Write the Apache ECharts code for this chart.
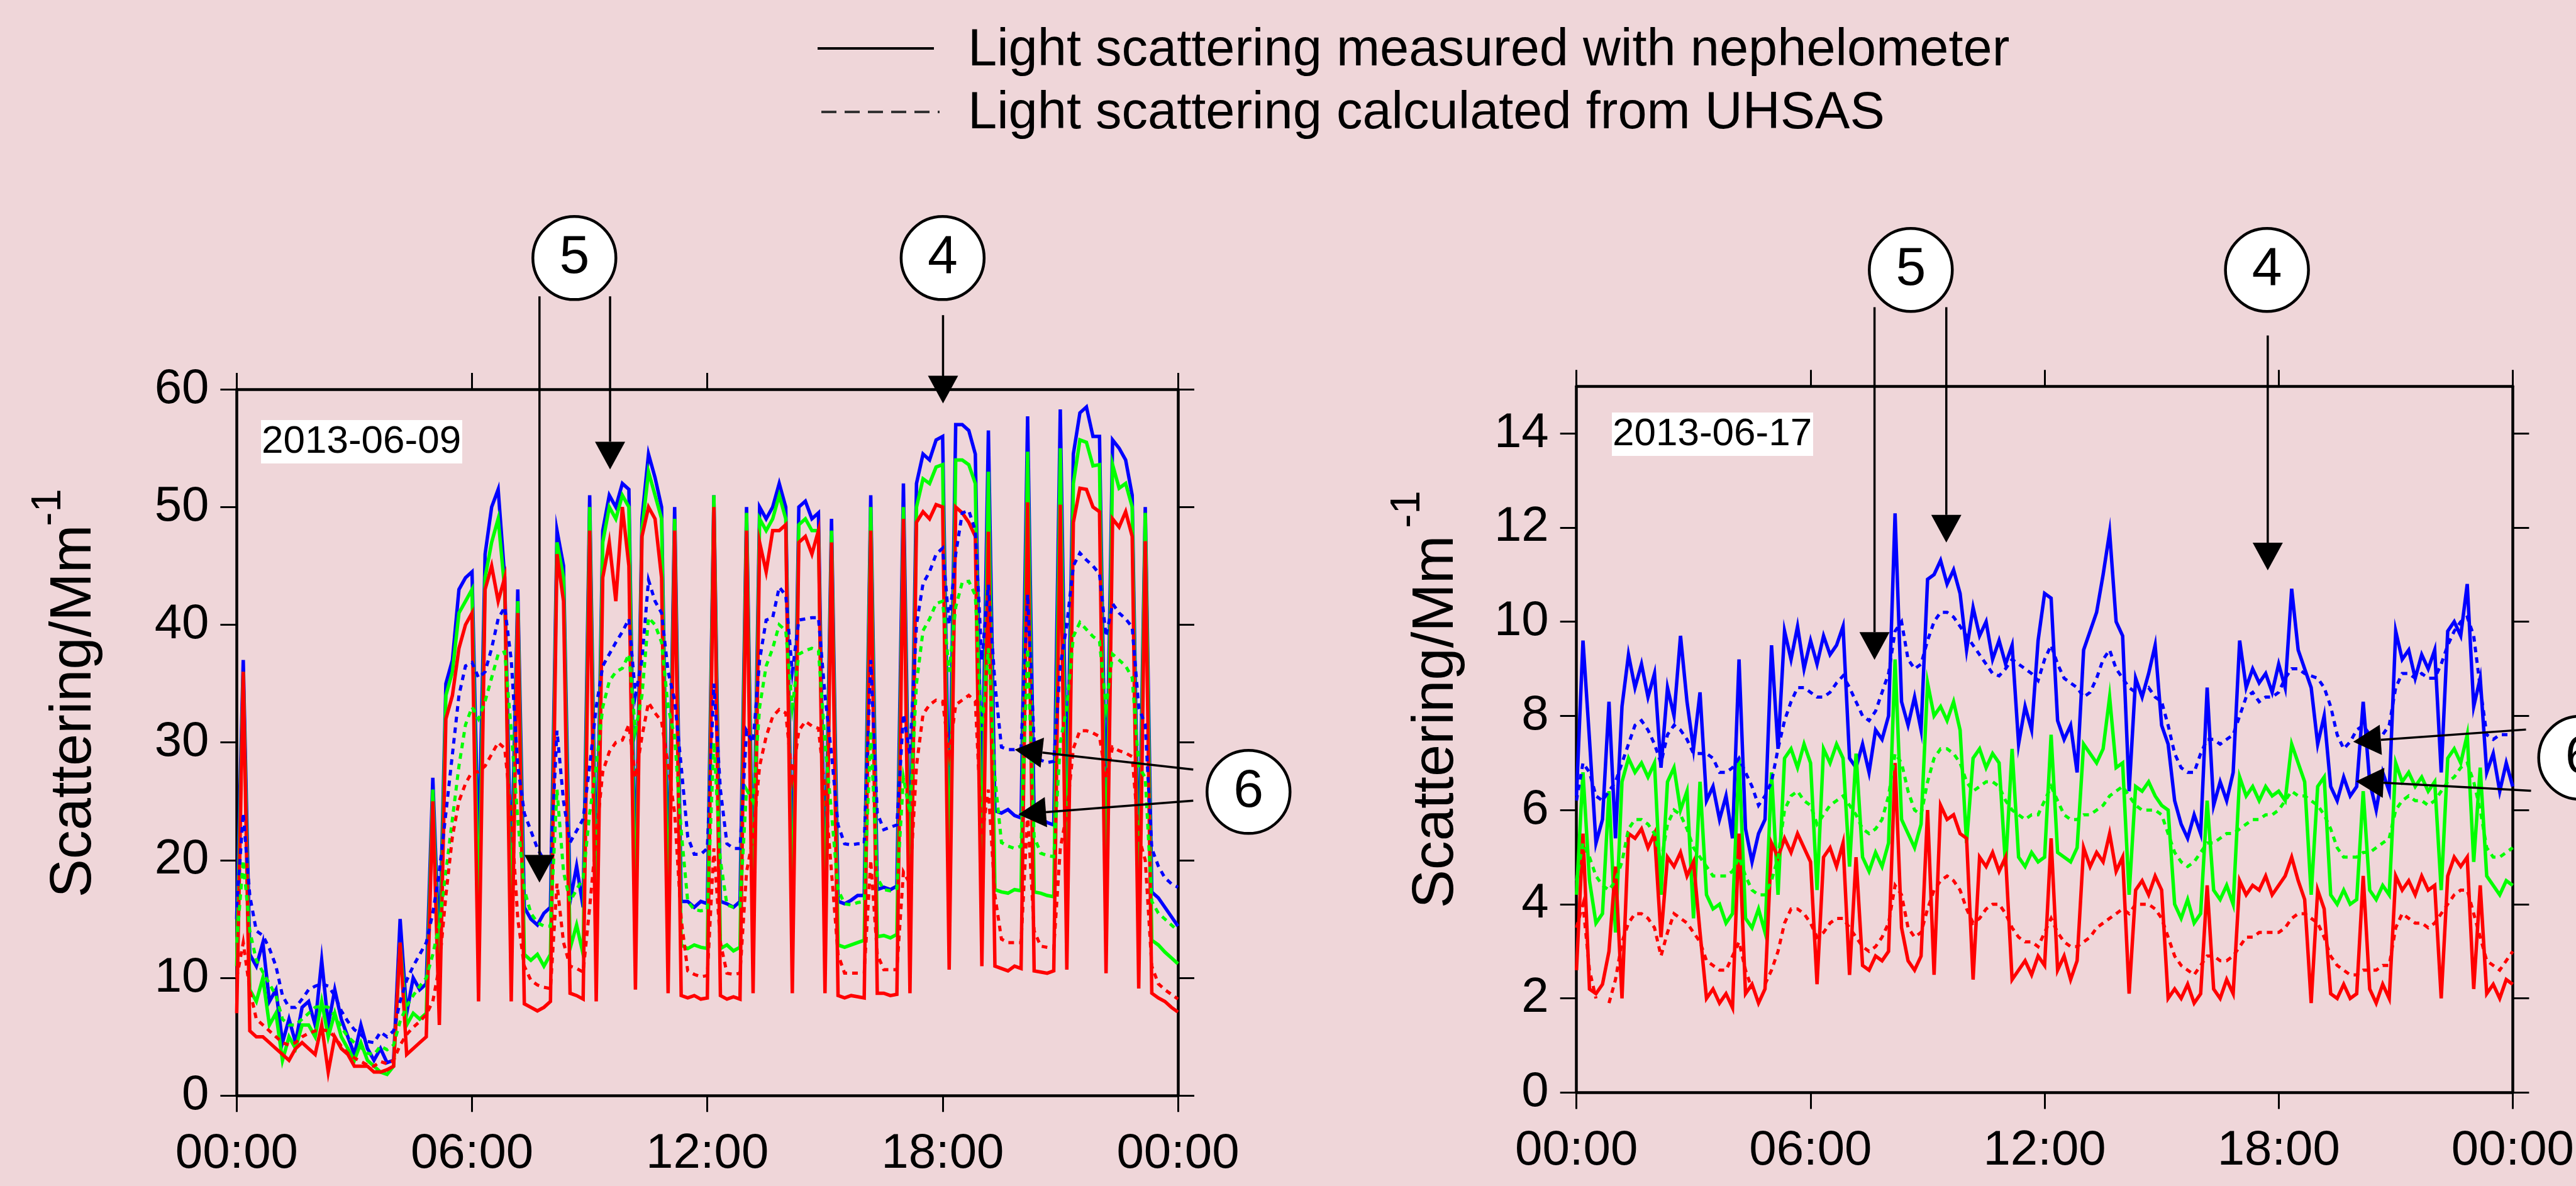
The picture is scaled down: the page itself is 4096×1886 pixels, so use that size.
<!DOCTYPE html>
<html><head><meta charset="utf-8">
<script src="https://cdn.jsdelivr.net/npm/echarts@6/dist/echarts.min.js"></script>
<style>html,body{margin:0;padding:0;background:#efd6d9;}#c{width:4096px;height:1886px;}</style>
</head><body><div id="c"></div>
<script>
// time grid (hours, 10-minute steps)
const hours = []; for (let i = 0; i <= 144; i++) hours.push(i / 6);
const xTickLabels = ['00:00','06:00','12:00','18:00','00:00'];
const yTicksLeft = [0,10,20,30,40,50,60];
const yTicksRight = [0,2,4,6,8,10,12,14];
const dateLeft = '2013-06-09', dateRight = '2013-06-17';
const legendTexts = ['Light scattering measured with nephelometer','Light scattering calculated from UHSAS'];
const yTitle = 'Scattering/Mm', yTitleSup = '-1';

// ---- 2013-06-09 : nephelometer (solid) ----
const L_blue = [15,37,12,11,13,8, 9,4.5,6.5,4.5,7.5,8, 6,11.5,6,9,6.5,5, 3.5,6,4,3,4,2.8, 3,15,7,10,9,9.5,
 27,12,35,37,43,44, 44.5,20,46,50,51.5,44, 18,43,16,15,14.5,15.5, 16,48,45,16.5,19.5,16, 51,17,48,51,50,52,
 51.5,17,49,54.5,52.5,50, 17,50,16.5,16.5,16,16.5, 16.3,51,16.5,16.3,16,16.5, 50,17,50,49,50,52, 50,17,50,50.5,49,49.5,
 17,49,16.5,16.3,16.6,17, 17,51,17.5,17.7,17.5,17.8, 52,18,52,54.5,54,55.7, 56,22,57,57,56.5,54.5, 24,56.5,24.2,24,24.3,23.8,
 23.6,57.7,23.4,23.5,23.2,23, 58.3,24,54.5,58,58.5,56, 56,22,55.7,55,54,51, 18,50,17.3,16.8,16,15.2, 14.4];
const L_green = [11,36,9,8,10,6, 7,3,5,4,6,6, 5,8,5,7,5,4, 3,4.5,3,2.5,2,1.8, 2.5,13,6,7,6.5,7,
 26,9,34,36,41,42, 43,14,44,47,49,43, 13,42,12,11.5,12,11, 12,47,44,12.5,14.5,12, 50,13,47,50,49,51,
 50,13,48,53,51,49, 13,49,12.8,12.5,12.8,12.6, 12.5,51,12.5,12.8,12.3,12.6, 49.5,13,49,48,49,51, 49,13,48.5,49,48,48,
 13,48,12.8,12.6,12.8,13, 13.2,50,13.5,13.6,13.4,13.7, 50,13.5,50,52.4,52,53.4, 53.6,16,54,54,53.6,52, 17,53,17.5,17.3,17.2,17.5,
 17.4,54.7,17.3,17.2,17,16.9, 55,17,52,55.7,55.5,53.5, 53.6,16,53.6,51.6,52,50, 13.5,49.5,13.2,12.8,12.2,11.7, 11.2];
const L_red = [7,36,5.5,5,5,4.5, 4,3.5,3,4,4.5,4, 3.5,6,2,5,4,3.5, 2.5,2.5,2.5,2,2,2.2, 2.5,13,3.5,4,4.5,5,
 25,6,32,34,38,40, 41,8,43,45,42,44, 8,41,7.8,7.5,7.2,7.5, 8,46,42,8.7,8.5,8.2, 48,8,44,47,42,50,
 45,9,47.5,50,49,44, 8.7,48,8.5,8.3,8.5,8.2, 8.3,50,8.5,8.2,8.4,8.2, 48,8.7,47,44.5,48,48, 48.5,8.7,47,47.5,46,48,
 8.7,47,8.5,8.3,8.5,8.4, 8.3,48,8.7,8.7,8.5,8.6, 49,8.7,48.7,49.6,49,50.2, 50,10.7,50,49.5,48.7,47.5, 11,47.9,11,10.8,10.6,11,
 10.8,50.4,10.6,10.5,10.4,10.6, 50.2,10.7,48.7,51.6,51.5,50, 49.6,10.4,49,48.3,49.6,47.5, 9.1,47.1,8.7,8.3,8,7.5, 7.1];
// ---- 2013-06-09 : UHSAS (dashed) ----
const L_blueU = [16,24,17,14,13.6,12.5, 11,8.5,7.5,7.5,8.2,9, 9.3,9.5,9.3,8.5,7.2,6.3, 5.6,5.2,4.6,4.5,5.4,5, 5.5,8,9.8,11,12,13,
 15.5,19,24,29,34,36.5, 36.8,35.5,36,38,40.5,41.5, 37,28,24,22.5,21,20, 19.5,31,25,21.5,22.5,23.5, 28,33,36.5,37.5,38.5,39.4,
 40.5,34,37,43.8,42,41, 36,33.6,28,22,20.5,20.5, 21,35,26,21.4,21,21, 31,30,37,40.4,40.6,43.2, 42.5,36,40.4,40.5,40.6,40.6,
 34,29,23,21.4,21.3,21.4, 21.4,37,24,22.6,22.8,23, 32.4,29,40,43.5,44.5,46, 46.5,40,46,49.5,49.7,48, 37,43.4,35,29.6,29.4,29.4,
 29.5,42.6,30,28.5,28.3,28.4, 36.5,40,45,46.1,45.5,45, 44.3,39,41.8,41,40.5,39.8, 33,31.5,21,19.5,18.5,18, 17.7];
const L_greenU = [13,20,14,11.5,10.5,9.5, 8.5,6.5,6,6,6.5,7, 7.5,7.6,7.5,6.8,5.8,5, 4.5,4.1,3.6,3.5,4.2,3.9, 4.3,6.3,7.6,8.5,9.3,10,
 12,14.5,19,23.5,28,31.5, 33,32,33.5,35.5,37.5,37.7, 31,23.5,17.5,15.5,14.7,14.4, 14.4,26,19,16.5,17.5,18.5, 24,28,33,35.2,36,36.3,
 37.5,31,34,40.6,40,38.5, 33,30.5,22.5,16.5,15.8,15.7, 15.8,30,20,16.2,16,16.1, 26,25,33,36.5,38,40, 39.5,33,37.5,37.8,38,37.8,
 30,24,17.5,16.3,16.2,16.4, 16.5,31,18.5,17.5,17.4,17.6, 27,24,35,39.5,40.5,41.8, 42,36,41.5,43.6,43.7,42.5, 31,38,27,21.5,21.2,21,
 21.2,38,22,20.6,20.4,20.3, 30,33,39,40.2,39.6,39, 38.6,33,37.5,37,36.5,35.5, 28,27,16.5,15.5,15,14.5, 14];
const L_redU = [10,13,9,6.5,6,5.5, 5,4.5,4.3,4.5,5,5.3, 5.5,5.6,5.5,5,4.2,3.6, 3.2,2.9,2.6,2.5,2.9,2.7, 3,4.3,5.2,5.8,6.3,6.9,
 8,11,17,22,25,26.5, 27.5,27.5,28,29,30,29.5, 24,15,11,9.8,9.4,9.2, 9.1,18,13,11,10.8,10.5, 16,22,27.5,29.2,30,30.2,
 31.5,27,30.5,33.4,32.5,31.8, 28,24,15,10.6,10.3,10.1, 10.2,21,13,10.4,10.3,10.4, 19,22,28,30.5,32.2,32.8, 32.5,27,31,31.8,31.4,31.2,
 26,19,12,10.4,10.4,10.4, 10.4,20,12,10.7,10.7,10.7, 19,18,28,32.4,33.2,33.6, 33.5,29,33.2,33.6,34,33.5, 22,26,17,13.3,13,13,
 13,24,14,12.7,12.6,12.5, 21,24,29.5,31,31,30.8, 30.5,27,29.6,29.3,29.1,28.8, 22,20,11,9.5,9,8.6, 8.2];

// ---- 2013-06-17 : nephelometer (solid) ----
const R_blue = [6.3,9.6,7.5,5.3,5.8,8.3, 5.4,8.2,9.3,8.6,9.1,8.4, 8.9,6.9,8.6,8.0,9.7,8.3, 7.3,8.5,6.2,6.5,5.8,6.3, 5.4,9.2,5.6,4.9,5.5,5.8,
 9.5,7.3,9.8,9.2,9.9,9.0, 9.6,9.1,9.7,9.3,9.5,9.9, 7.1,6.9,7.4,6.8,7.7,7.5, 8.0,12.3,8.3,7.8,8.4,7.7, 10.9,11.0,11.3,10.8,11.1,10.6,
 9.4,10.3,9.7,10.0,9.2,9.6, 9.1,9.5,7.4,8.2,7.7,9.6, 10.6,10.5,7.9,7.5,7.8,6.8, 9.4,9.8,10.2,11.0,11.9,10.0, 9.7,6.4,8.8,8.4,8.9,9.5,
 7.8,7.4,6.2,5.7,5.4,5.9, 5.5,8.6,6.1,6.6,6.2,6.8, 9.6,8.6,9.0,8.7,8.9,8.5, 9.1,8.6,10.7,9.4,9.0,8.6, 7.4,8.0,6.5,6.2,6.7,6.3,
 6.5,8.3,6.6,6.0,6.8,6.4, 9.8,9.2,9.4,8.8,9.3,9.0, 9.4,6.8,9.8,10.0,9.7,10.8, 8.2,8.8,6.8,7.2,6.4,7.0, 6.5];
const R_green = [4.2,6.8,4.5,3.6,3.8,6.4, 3.4,6.6,7.1,6.8,7.0,6.7, 7.0,4.2,6.6,6.9,6.0,6.4, 3.7,6.6,4.2,3.9,4.0,3.6, 3.8,7.1,3.7,3.5,3.9,3.4,
 6.8,4.2,7.1,7.3,6.9,7.4, 7.0,4.3,7.3,7.0,7.4,7.1, 4.8,7.2,5.0,4.7,5.1,4.8, 5.3,9.2,5.8,5.5,5.2,5.7, 8.7,8.0,8.2,7.9,8.3,7.7,
 5.3,7.1,7.3,6.9,7.2,7.0, 4.8,7.3,5.0,4.8,5.1,4.9, 5.0,7.6,5.1,5.0,4.9,5.2, 7.4,7.2,7.0,7.3,8.4,6.9, 7.0,4.2,6.5,6.4,6.6,6.3,
 6.1,6.0,4.0,3.7,4.1,3.6, 3.8,6.2,4.3,4.1,4.4,4.0, 6.7,6.3,6.5,6.2,6.5,6.3, 6.4,6.2,7.4,7.0,6.6,4.2, 6.5,6.7,4.2,4.0,4.3,4.0,
 4.1,6.4,4.3,4.1,4.4,4.2, 7.0,6.6,6.8,6.5,6.7,6.4, 6.6,4.3,7.1,7.3,7.0,7.6, 4.9,6.9,4.6,4.4,4.2,4.5, 4.4];
const R_red = [2.6,5.5,2.2,2.1,2.3,3.0, 4.8,2.0,5.5,5.4,5.6,5.2, 5.5,3.3,5.0,4.8,5.1,4.6, 4.9,3.4,2.0,2.2,1.9,2.1, 1.8,5.5,2.1,2.3,1.9,2.2,
 5.3,5.0,5.4,5.1,5.5,5.2, 4.9,2.3,5.0,5.2,4.8,5.3, 2.5,5.0,2.7,2.6,2.9,2.8, 3.0,7.0,3.5,2.8,2.6,2.9, 6.0,2.5,6.1,5.8,5.9,5.5,
 5.4,2.4,5.0,4.8,5.1,4.7, 5.0,2.4,2.6,2.8,2.5,2.9, 2.7,5.4,2.6,2.9,2.4,2.8, 5.2,4.8,5.1,4.9,5.5,4.7, 5.0,2.1,4.3,4.5,4.2,4.6,
 4.3,2.0,2.2,2.0,2.3,1.9, 2.1,4.4,2.2,2.0,2.4,2.1, 4.5,4.2,4.4,4.3,4.6,4.2, 4.4,4.6,5.0,4.5,4.1,1.9, 4.3,3.9,2.1,2.0,2.3,2.0,
 2.1,4.6,2.2,1.9,2.3,2.0, 4.6,4.3,4.5,4.2,4.6,4.3, 4.4,2.0,4.6,5.0,4.8,5.0, 2.2,4.4,2.1,2.3,2.0,2.4, 2.3];
// ---- 2013-06-17 : UHSAS (dashed) ----
const R_blueU = [6.2,7.0,6.8,6.3,6.2,6.4, 6.6,7.0,7.4,7.8,7.9,7.7, 7.4,7.0,7.6,7.8,7.7,7.5, 7.2,7.2,7.2,7.1,6.8,6.8, 6.9,7.1,6.8,6.5,6.1,6.3,
 6.6,7.3,7.9,8.3,8.6,8.6, 8.5,8.4,8.4,8.5,8.7,8.85, 8.6,8.3,8.0,7.9,8.1,8.5, 8.9,9.8,10.0,9.2,9.0,9.1, 9.6,10.0,10.2,10.2,10.1,9.9,
 9.7,9.5,9.3,9.1,8.9,8.85, 9.0,9.2,9.1,9.0,8.9,8.75, 9.2,9.5,9.1,8.8,8.7,8.6, 8.4,8.5,8.8,9.2,9.4,9.0, 8.8,8.6,8.5,8.5,8.6,8.4,
 8.3,7.8,7.2,6.9,6.8,6.8, 7.2,7.5,7.5,7.4,7.5,7.6, 8.0,8.4,8.5,8.3,8.4,8.4, 8.5,8.8,9.0,9.0,8.9,8.85, 8.8,8.6,8.2,7.6,7.3,7.45,
 7.7,7.8,7.6,7.6,7.6,7.8, 8.6,8.9,8.9,8.8,8.9,8.8, 8.8,9.1,9.5,9.8,10.0,10.1, 9.7,8.6,7.6,7.5,7.6,7.6, 7.6];
const R_greenU = [4.5,5.3,5.0,4.6,4.4,4.3, 4.5,4.9,5.6,5.8,5.8,5.7, 5.5,4.9,5.7,6.0,5.9,5.6, 5.2,5.0,4.8,4.6,4.6,4.6, 4.7,5.0,4.6,4.3,4.2,4.2,
 4.5,5.0,6.0,6.3,6.4,6.2, 6.1,5.7,5.9,6.1,6.2,6.3, 6.1,5.9,5.6,5.5,5.6,5.8, 6.3,7.2,7.0,6.4,6.0,5.9, 6.6,7.1,7.3,7.3,7.2,7.0,
 6.6,6.4,6.5,6.6,6.6,6.5, 6.2,6.0,5.9,5.8,5.9,5.9, 6.2,6.5,6.2,5.9,5.8,5.8, 5.9,5.9,6.0,6.1,6.3,6.4, 6.5,6.3,6.1,6.0,6.0,6.0,
 5.9,5.5,5.1,4.9,4.8,4.9, 5.1,5.3,5.3,5.4,5.5,5.5, 5.6,5.7,5.8,5.8,5.9,5.9, 6.0,6.2,6.4,6.3,6.3,6.2, 6.1,5.9,5.6,5.2,5.0,5.0,
 5.0,5.1,5.1,5.2,5.3,5.4, 6.0,6.2,6.3,6.2,6.2,6.1, 6.2,6.4,6.6,6.7,6.9,7.0, 6.6,6.0,5.2,5.0,5.0,5.1, 5.2];
const R_redU = [3.5,4.0,2.6,2.0,null,1.9, 2.4,3.2,3.6,3.8,3.8,3.7, 3.5,2.9,3.4,3.8,3.7,3.6, 3.4,3.2,2.8,2.7,2.6,2.6, 2.9,3.2,2.6,2.2,null,2.3,
 2.6,3.0,3.6,3.9,3.9,3.8, 3.6,3.3,3.4,3.6,3.7,3.7, 3.5,3.3,3.1,3.0,3.1,3.3, 3.6,4.4,4.2,3.5,3.3,3.4, 3.9,4.3,4.5,4.6,4.5,4.3,
 3.9,3.6,3.7,3.9,4.0,4.0, 3.8,3.5,3.3,3.2,3.2,3.1, 3.4,3.7,3.4,3.2,3.1,3.1, 3.2,3.3,3.5,3.6,3.7,3.8, 3.9,3.8,4.0,4.0,4.0,3.9,
 3.7,3.3,2.9,2.7,2.6,2.5, 2.7,2.9,2.9,2.8,2.8,2.9, 3.1,3.3,3.3,3.4,3.4,3.4, 3.4,3.5,3.7,3.8,3.8,3.7, 3.6,3.3,2.9,2.7,2.6,2.5,
 2.5,2.6,2.6,2.6,2.7,2.7, 3.5,3.8,3.7,3.6,3.6,3.5, 3.6,3.8,4.0,4.2,4.3,4.3, 3.8,3.3,2.8,2.7,2.6,2.8, 3.0];

// annotation anchors in data coordinates [hour, value]
const annLeft = {
  circles: [['5', 8.61, 71.15], ['4', 18.0, 71.15], ['6', 25.8, 25.8]],
  arrows: [[[7.72, 67.9], [7.72, 18.1]], [[9.52, 67.9], [9.52, 53.2]], [[18.01, 66.3], [18.01, 58.8]],
           [[24.39, 27.7], [19.84, 29.4]], [[24.39, 25.05], [19.93, 23.9]]]
};
const annRight = {
  circles: [['5', 8.57, 17.47], ['4', 17.7, 17.47], ['6', 25.73, 7.11]],
  arrows: [[[7.64, 16.68], [7.64, 9.19]], [[9.48, 16.68], [9.48, 11.68]], [[17.72, 16.08], [17.72, 11.09]],
           [[24.34, 7.71], [19.91, 7.45]], [[24.47, 6.41], [19.98, 6.61]]]
};

const FONT = "'Liberation Sans', Arial, Helvetica, sans-serif";
const BLACK = '#000';
const pair = arr => hours.map((h, i) => [h, arr[i]]);
const xFmt = v => xTickLabels[Math.round(v / 6)] || '';

function xAxes(gi) {
  const base = {
    gridIndex: gi, type: 'value', min: 0, max: 24, interval: 6,
    axisLine: { show: true, onZero: false, lineStyle: { color: BLACK, width: 4.5 } },
    axisTick: { show: true, inside: false, length: 26, lineStyle: { color: BLACK, width: 3 } },
    splitLine: { show: false }
  };
  return [
    Object.assign({}, base, { position: 'bottom',
      axisLabel: { show: true, margin: 54, fontSize: 78, color: BLACK, fontFamily: FONT, formatter: xFmt } }),
    Object.assign({}, base, { position: 'top', axisLabel: { show: false } })
  ];
}
function yAxes(gi, max, interval, ticks) {
  const base = {
    gridIndex: gi, type: 'value', min: 0, max: max, interval: interval,
    axisLine: { show: true, onZero: false, lineStyle: { color: BLACK, width: 4.5 } },
    axisTick: { show: true, inside: false, length: 26, customValues: ticks, lineStyle: { color: BLACK, width: 3 } },
    splitLine: { show: false }
  };
  return [
    Object.assign({}, base, { position: 'left',
      axisLabel: { show: true, margin: 44, fontSize: 78, color: BLACK, fontFamily: FONT, customValues: ticks } }),
    Object.assign({}, base, { position: 'right', axisLabel: { show: false } })
  ];
}
function lineSeries(xi, yi, data, color, dashed) {
  return {
    type: 'line', xAxisIndex: xi, yAxisIndex: yi, data: pair(data),
    showSymbol: false, symbol: 'none', connectNulls: false, animation: false,
    lineStyle: { color: color, width: dashed ? 5 : 5.5, type: dashed ? [9, 8] : 'solid', cap: 'butt', join: 'miter' },
    z: dashed ? 3 : 2
  };
}

const chart = echarts.init(document.getElementById('c'), null, { renderer: 'canvas' });
const option = {
  backgroundColor: '#efd6d9',
  animation: false,
  textStyle: { fontFamily: FONT },
  grid: [
    { left: 376.4, top: 619.1, width: 1496.6, height: 1123.2 },
    { left: 2506.7, top: 614.25, width: 1497.6, height: 1123.2 }
  ],
  xAxis: [...xAxes(0), ...xAxes(1)],
  yAxis: [...yAxes(0, 60, 10, yTicksLeft), ...yAxes(1, 15, 2, yTicksRight)],
  series: [
    lineSeries(0, 0, L_blue, '#0000ff', false),
    lineSeries(0, 0, L_green, '#00ff00', false),
    lineSeries(0, 0, L_red, '#ff0000', false),
    lineSeries(0, 0, L_blueU, '#0000ff', true),
    lineSeries(0, 0, L_greenU, '#00ff00', true),
    lineSeries(0, 0, L_redU, '#ff0000', true),
    lineSeries(2, 2, R_blue, '#0000ff', false),
    lineSeries(2, 2, R_green, '#00ff00', false),
    lineSeries(2, 2, R_red, '#ff0000', false),
    lineSeries(2, 2, R_blueU, '#0000ff', true),
    lineSeries(2, 2, R_greenU, '#00ff00', true),
    lineSeries(2, 2, R_redU, '#ff0000', true)
  ]
};
chart.setOption(option);

// ---- graphics: legend, titles, date boxes, annotations ----
const g = [];
// legend
g.push({ type: 'line', shape: { x1: 1300, y1: 77, x2: 1485, y2: 77 }, style: { stroke: BLACK, lineWidth: 4 }, z: 50 });
g.push({ type: 'line', shape: { x1: 1306, y1: 178, x2: 1494, y2: 178 }, style: { stroke: '#333', lineWidth: 4, lineDash: [24, 13] }, z: 50 });
g.push({ type: 'text', x: 1539, y: 81, style: { text: legendTexts[0], font: '83px ' + FONT, fill: BLACK, textAlign: 'left', textVerticalAlign: 'middle' }, z: 50 });
g.push({ type: 'text', x: 1539, y: 181, style: { text: legendTexts[1], font: '83px ' + FONT, fill: BLACK, textAlign: 'left', textVerticalAlign: 'middle' }, z: 50 });
// y titles
function yTitleEls(xMain, yMain, xSup, ySup) {
  return [
    { type: 'text', x: xMain, y: yMain, rotation: Math.PI / 2,
      style: { text: yTitle, font: '92px ' + FONT, fill: BLACK, textAlign: 'center', textVerticalAlign: 'middle' }, z: 50 },
    { type: 'text', x: xSup, y: ySup, rotation: Math.PI / 2,
      style: { text: yTitleSup, font: '67px ' + FONT, fill: BLACK, textAlign: 'center', textVerticalAlign: 'middle' }, z: 50 }
  ];
}
g.push(...yTitleEls(119, 1131, 78, 807));
g.push(...yTitleEls(2285, 1148, 2239, 810));
// date boxes
function dateBox(x, y, txt) {
  return [
    { type: 'rect', shape: { x: x, y: y, width: 320, height: 69 }, style: { fill: '#ffffff' }, z: 40 },
    { type: 'text', x: x + 1, y: y + 35, style: { text: txt, font: '62px ' + FONT, fill: BLACK, textAlign: 'left', textVerticalAlign: 'middle' }, z: 41 }
  ];
}
g.push(...dateBox(415, 668, dateLeft));
g.push(...dateBox(2563, 656, dateRight));
// annotations
function arrowEls(gi, from, to) {
  const p0 = chart.convertToPixel({ gridIndex: gi }, from);
  const p1 = chart.convertToPixel({ gridIndex: gi }, to);
  const dx = p1[0] - p0[0], dy = p1[1] - p0[1], len = Math.hypot(dx, dy);
  const ux = dx / len, uy = dy / len, L = 44, W = 24;
  const bx = p1[0] - ux * L, by = p1[1] - uy * L;
  return [
    { type: 'line', shape: { x1: p0[0], y1: p0[1], x2: bx, y2: by }, style: { stroke: BLACK, lineWidth: 3.5 }, z: 60 },
    { type: 'polygon', shape: { points: [[p1[0], p1[1]], [bx - uy * W, by + ux * W], [bx + uy * W, by - ux * W]] }, style: { fill: BLACK }, z: 60 }
  ];
}
function circleEls(gi, c) {
  const p = chart.convertToPixel({ gridIndex: gi }, [c[1], c[2]]);
  return [
    { type: 'circle', shape: { cx: p[0], cy: p[1], r: 66 }, style: { fill: '#ffffff', stroke: BLACK, lineWidth: 4.5 }, z: 61 },
    { type: 'text', x: p[0], y: p[1], style: { text: c[0], font: '86px ' + FONT, fill: BLACK, textAlign: 'center', textVerticalAlign: 'middle' }, z: 62 }
  ];
}
[[0, annLeft], [1, annRight]].forEach(([gi, a]) => {
  a.arrows.forEach(ar => g.push(...arrowEls(gi, ar[0], ar[1])));
  a.circles.forEach(c => g.push(...circleEls(gi, c)));
});
chart.setOption({ graphic: g });
</script></body></html>
